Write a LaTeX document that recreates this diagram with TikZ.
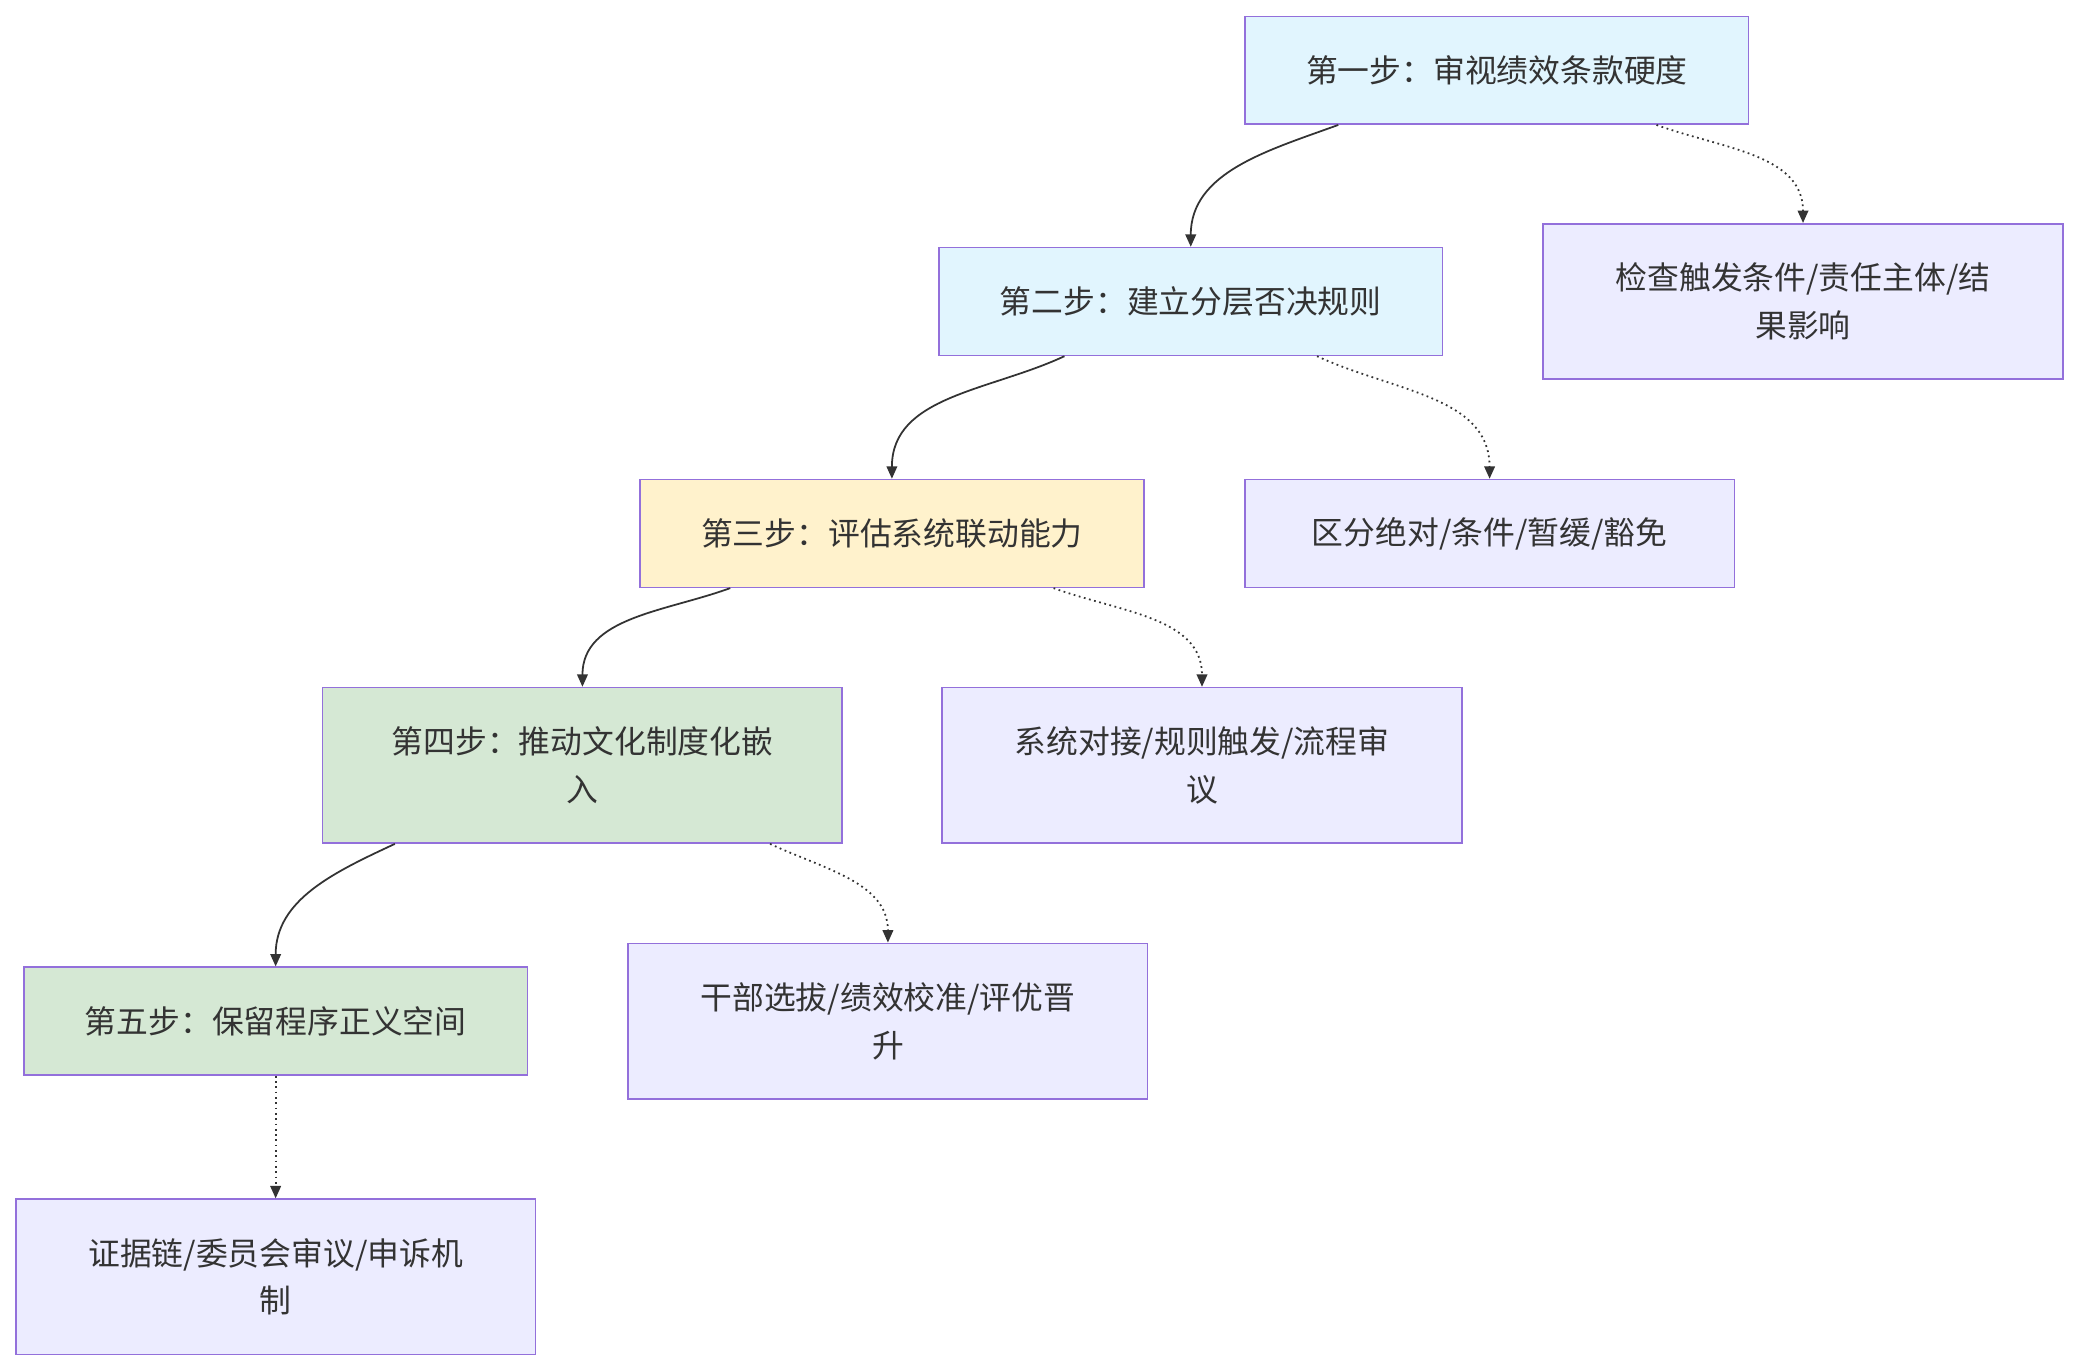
\documentclass[tikz,border=0pt]{standalone}
\usepackage{fontspec}
\setmainfont{Noto Sans CJK SC}
\usetikzlibrary{arrows.meta,calc}

\definecolor{stepblue}{HTML}{E1F5FE}
\definecolor{stepyellow}{HTML}{FFF2CC}
\definecolor{stepgreen}{HTML}{D5E8D4}
\definecolor{notefill}{HTML}{ECECFF}
\definecolor{boxline}{HTML}{9370DB}
\definecolor{inkgray}{HTML}{333333}

\tikzset{
  box/.style = {draw=boxline, line width=0.9pt, text=inkgray, align=center,
    minimum width=285pt, minimum height=61pt, inner sep=0pt,
    font=\fontsize{18}{27}\selectfont},
  tall/.style = {minimum width=294pt, minimum height=88pt},
  flow/.style = {draw=inkgray, line width=1pt, -{Triangle[length=7pt,width=6pt]}},
  hint/.style = {flow, dotted}
}

\begin{document}
\begin{tikzpicture}[x=0.75pt, y=-0.75pt]
        \useasboundingbox (0,0) rectangle (1568,1035);

        % steps
        \node[box, fill=stepblue]   (s1) at (1129.5,53)  {第一步：审视绩效条款硬度};
        \node[box, fill=stepblue]   (s2) at (898.5,227.5) {第二步：建立分层否决规则};
        \node[box, fill=stepyellow] (s3) at (673,402.5)  {第三步：评估系统联动能力};
        \node[box, tall, fill=stepgreen] (s4) at (439.5,577.5) {第四步：推动文化制度化嵌\\入};
        \node[box, fill=stepgreen]  (s5) at (208,770.5)  {第五步：保留程序正义空间};

        % notes
        \node[box, tall, fill=notefill] (n1) at (1360.5,227.5) {检查触发条件/责任主体/结\\果影响};
        \node[box, fill=notefill, minimum width=277pt] (n2) at (1124,402.5) {区分绝对/条件/暂缓/豁免};
        \node[box, tall, fill=notefill] (n3) at (907,577.5) {系统对接/规则触发/流程审\\议};
        \node[box, tall, fill=notefill] (n4) at (670,770.5) {干部选拔/绩效校准/评优晋\\升};
        \node[box, tall, fill=notefill] (n5) at (208,963.5) {证据链/委员会审议/申诉机\\制};

        \draw[flow] ($(s1.south west)!0.186!(s1.south east)$) to[out=-160, in=90] (s2.north);
        \draw[hint] ($(s1.south west)!0.816!(s1.south east)$) to[out=-20, in=90] (n1.north);
        \draw[flow] ($(s2.south west)!0.25!(s2.south east)$) to[out=-155, in=90] (s3.north);
        \draw[hint] ($(s2.south west)!0.75!(s2.south east)$) to[out=-25, in=90] (n2.north);
        \draw[flow] ($(s3.south west)!0.18!(s3.south east)$) to[out=-160, in=90] (s4.north);
        \draw[hint] ($(s3.south west)!0.82!(s3.south east)$) to[out=-20, in=90] (n3.north);
        \draw[flow] ($(s4.south west)!0.14!(s4.south east)$) to[out=-155, in=90] (s5.north);
        \draw[hint] ($(s4.south west)!0.86!(s4.south east)$) to[out=-25, in=90] (n4.north);
        \draw[hint] (s5.south) -- (n5.north);
\end{tikzpicture}
\end{document}
